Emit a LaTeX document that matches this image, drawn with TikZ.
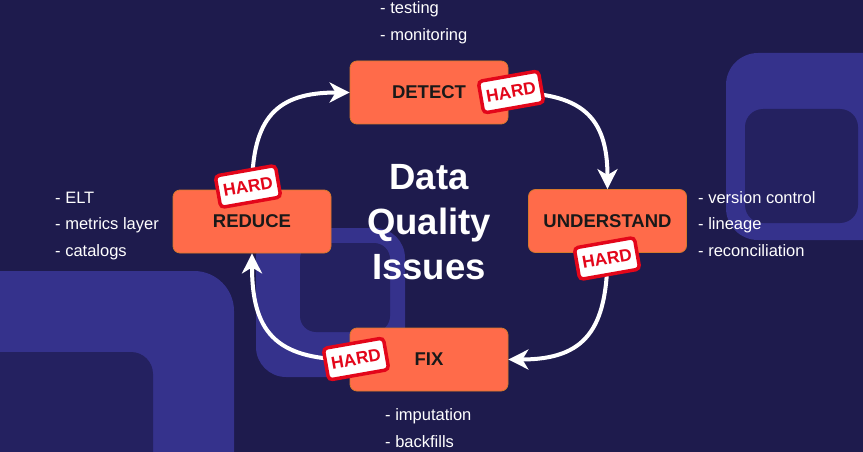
\documentclass[tikz,border=0pt]{standalone}
\usepackage{fontspec}
\setmainfont{Liberation Sans}
\usetikzlibrary{arrows.meta}

\definecolor{navy}{HTML}{1E1B4D}
\definecolor{tilelight}{HTML}{35328C}
\definecolor{tiledark}{HTML}{242160}
\definecolor{stagefill}{HTML}{FF6B4A}
\definecolor{stageline}{HTML}{D6782C}
\definecolor{stampred}{HTML}{E3061A}

\tikzset{
  stage/.style={draw=stageline, line width=0.8pt, fill=stagefill, rounded corners=7pt,
    minimum width=158pt, minimum height=63pt, text=black!90,
    font=\fontsize{18.5}{22}\selectfont\bfseries},
  hard/.style={draw=stampred, line width=3.5pt, fill=white, rounded corners=4pt,
    minimum width=61pt, minimum height=32pt, inner sep=0pt, rotate=10, text=stampred,
    font=\fontsize{17.3}{20}\selectfont\bfseries},
  flow/.style={draw=white, line width=4pt, looseness=1.35,
    -{Stealth[length=20pt,width=20pt,inset=6pt]}},
  bullet/.style={anchor=base west, text=white, inner sep=0pt,
    font=\fontsize{16.5}{20}\selectfont},
}

\begin{document}
\begin{tikzpicture}[x=1pt,y=-1pt]

\useasboundingbox (0,0) rectangle (863,452);
\clip (0,0) rectangle (863,452);
\fill[navy] (0,0) rectangle (863,452);

% background tiles
\fill[tilelight,rounded corners=40pt] (-60,271) rectangle (234,520);
\fill[tiledark,rounded corners=22pt] (-60,352) rectangle (153,520);
\fill[tilelight,rounded corners=30pt] (256,228) rectangle (405,377);
\fill[tiledark,rounded corners=16pt] (300,243) rectangle (390,332);
\fill[tilelight,rounded corners=32pt] (726,53) rectangle (920,240);
\fill[tiledark,rounded corners=18pt] (745,109) rectangle (858,223);

% stages
\node[stage] (detect) at (429,92.5) {DETECT};
\node[stage] (understand) at (607.5,221) {UNDERSTAND};
\node[stage] (fix) at (429,359.5) {FIX};
\node[stage] (reduce) at (252,221.5) {REDUCE};

% cycle
\draw[flow] (reduce.north) to[out=90,in=180] (detect.west);
\draw[flow] (detect.east) to[out=0,in=90] (understand.north);
\draw[flow] (understand.south) to[out=-90,in=0] (fix.east);
\draw[flow] (fix.west) to[out=180,in=-90] (reduce.south);

\node[text=white, align=center, anchor=north, inner sep=0pt,
  font=\fontsize{36.5}{45}\selectfont\bfseries] (title) at (429,164) {Data\\Quality\\Issues};

% stamps
\node[hard] (hard-detect) at (511,92) {HARD};
\node[hard] (hard-understand) at (607,258.5) {HARD};
\node[hard] (hard-reduce) at (248,186.5) {HARD};
\node[hard] (hard-fix) at (356,359) {HARD};

% notes
\foreach \t [count=\i] in {testing,monitoring}
  { \node[bullet] (top-\i) at (380,{14+27*(\i-1)}) {- \t}; }
\foreach \t [count=\i] in {version control,lineage,reconciliation}
  { \node[bullet] (right-\i) at (698,{203+26.5*(\i-1)}) {- \t}; }
\foreach \t [count=\i] in {ELT,metrics layer,catalogs}
  { \node[bullet] (left-\i) at (55,{203+26.5*(\i-1)}) {- \t}; }
\foreach \t [count=\i] in {imputation,backfills}
  { \node[bullet] (bottom-\i) at (385,{420+27*(\i-1)}) {- \t}; }

\end{tikzpicture}
\end{document}
